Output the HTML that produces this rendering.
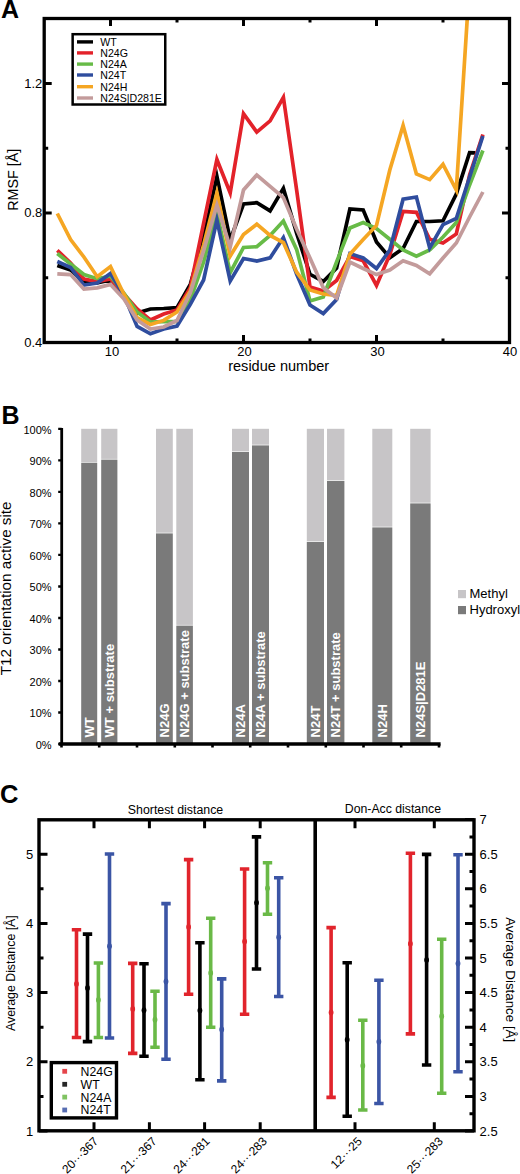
<!DOCTYPE html>
<html><head><meta charset="utf-8"><title>Figure</title>
<style>
html,body{margin:0;padding:0;background:#fff;}
body{width:520px;height:1174px;overflow:hidden;}
svg{display:block;}
text{font-family:"Liberation Sans", sans-serif;}
</style></head>
<body>
<svg width="520" height="1174" viewBox="0 0 520 1174">
<rect width="520" height="1174" fill="#fff"/>
<defs><clipPath id="clipA"><rect x="44.2" y="18.5" width="465.3" height="324.0"/></clipPath></defs>
<g clip-path="url(#clipA)" fill="none" stroke-width="3.7" stroke-linejoin="miter" stroke-miterlimit="10">
<polyline points="57.3,265.4 70.6,270.0 83.9,282.0 97.2,283.0 110.5,280.0 123.8,296.0 137.1,313.0 150.4,309.0 163.7,308.5 177.0,307.7 190.3,284.3 203.6,238.0 216.9,176.5 230.2,240.0 243.5,204.0 256.8,202.7 270.1,210.9 283.4,188.4 296.7,233.4 310.0,274.3 323.3,281.5 336.6,268.0 349.9,209.0 363.2,210.0 376.5,242.0 389.8,257.7 403.1,248.5 416.4,221.5 429.7,221.5 443.0,220.8 456.3,194.0 469.6,152.7 475.5,152.8" stroke="#000000"/>
<polyline points="57.3,250.4 70.6,263.0 83.9,279.0 97.2,281.5 110.5,279.0 123.8,294.0 137.1,309.0 150.4,320.0 163.7,314.0 177.0,310.0 190.3,287.7 203.6,223.4 216.9,159.5 230.2,193.0 243.5,113.7 256.8,132.1 270.1,120.9 283.4,97.3 296.7,190.4 310.0,287.0 323.3,291.0 336.6,280.5 349.9,256.5 363.2,260.8 376.5,285.4 389.8,254.6 403.1,211.5 416.4,212.3 429.7,239.2 443.0,243.0 456.3,234.0 469.6,175.0 482.9,134.5" stroke="#e3222a"/>
<polyline points="57.3,253.5 70.6,264.0 83.9,274.5 97.2,278.7 110.5,276.0 123.8,293.0 137.1,312.0 150.4,322.0 163.7,321.7 177.0,321.5 190.3,300.0 203.6,262.0 216.9,213.0 230.2,272.7 243.5,247.5 256.8,246.7 270.1,235.4 283.4,221.1 296.7,249.7 310.0,301.0 323.3,297.0 336.6,262.0 349.9,228.0 363.2,222.5 376.5,228.5 389.8,239.2 403.1,250.0 416.4,256.2 429.7,250.0 443.0,237.0 456.3,222.5 469.6,185.0 482.9,150.5" stroke="#67bb47"/>
<polyline points="57.3,261.5 70.6,267.5 83.9,285.0 97.2,283.0 110.5,273.5 123.8,295.0 137.1,326.4 150.4,333.8 163.7,329.0 177.0,326.0 190.3,304.4 203.6,280.0 216.9,220.0 230.2,281.0 243.5,258.5 256.8,261.0 270.1,257.9 283.4,237.5 296.7,274.3 310.0,305.0 323.3,313.5 336.6,299.5 349.9,253.5 363.2,258.0 376.5,268.5 389.8,250.0 403.1,199.2 416.4,197.0 429.7,248.0 443.0,224.6 456.3,218.5 469.6,177.0 482.9,136.0" stroke="#2f4d9e"/>
<polyline points="57.3,213.5 70.6,239.5 83.9,257.0 97.2,276.7 110.5,266.6 123.8,294.0 137.1,317.7 150.4,324.4 163.7,320.4 177.0,312.0 190.3,291.0 203.6,245.0 216.9,193.0 230.2,256.0 243.5,234.5 256.8,224.2 270.1,235.4 283.4,242.6 296.7,272.2 310.0,290.0 323.3,294.0 336.6,295.5 349.9,254.2 363.2,239.5 376.5,225.4 389.8,170.0 403.1,125.5 416.4,173.9 429.7,179.6 443.0,164.3 456.3,190.0 469.6,-18.0 482.9,-60.0" stroke="#f5a623"/>
<polyline points="57.3,273.8 70.6,274.6 83.9,289.0 97.2,287.8 110.5,284.4 123.8,298.8 137.1,320.0 150.4,329.0 163.7,327.0 177.0,320.5 190.3,292.8 203.6,250.6 216.9,205.0 230.2,247.0 243.5,190.0 256.8,175.0 270.1,186.3 283.4,197.6 296.7,229.3 310.0,258.0 323.3,287.7 336.6,298.0 349.9,262.0 363.2,268.5 376.5,274.6 389.8,270.0 403.1,260.8 416.4,265.4 429.7,273.8 443.0,258.0 456.3,243.0 469.6,217.0 482.9,192.0" stroke="#c39b9b"/>
</g>
<rect x="44.2" y="18.5" width="465.3" height="324.0" fill="none" stroke="#000" stroke-width="3.3"/>
<path d="M110.5 342.5V335.0M110.5 18.5V26.0M243.5 342.5V335.0M243.5 18.5V26.0M376.5 342.5V335.0M376.5 18.5V26.0M177.0 342.5V338.5M177.0 18.5V22.5M310.0 342.5V338.5M310.0 18.5V22.5M443.0 342.5V338.5M443.0 18.5V22.5M44.2 213.0H51.7M509.5 213.0H502.0M44.2 83.5H51.7M509.5 83.5H502.0M44.2 277.8H48.2M509.5 277.8H505.5M44.2 148.2H48.2M509.5 148.2H505.5" stroke="#000" stroke-width="3" fill="none"/>
<text x="1" y="18" font-size="25" font-weight="bold">A</text>
<text x="42.3" y="346.9" font-size="13" text-anchor="end">0.4</text>
<text x="42.3" y="217.4" font-size="13" text-anchor="end">0.8</text>
<text x="42.3" y="87.9" font-size="13" text-anchor="end">1.2</text>
<text x="112.1" y="355.6" font-size="13" text-anchor="middle">10</text>
<text x="244.6" y="355.6" font-size="13" text-anchor="middle">20</text>
<text x="377.4" y="355.6" font-size="13" text-anchor="middle">30</text>
<text x="510.0" y="355.6" font-size="13" text-anchor="middle">40</text>
<text x="228.2" y="370.9" font-size="14.3" textLength="101" lengthAdjust="spacingAndGlyphs">residue number</text>
<text transform="translate(17.6,210.8) rotate(-90)" font-size="14.3" textLength="62" lengthAdjust="spacingAndGlyphs">RMSF [Å]</text>
<rect x="72.65" y="34.2" width="92.6" height="70.3" fill="#fff" stroke="#000" stroke-width="2.5"/>
<path d="M77 41.9H93" stroke="#000000" stroke-width="3.4"/>
<text x="100.3" y="45.8" font-size="10.6">WT</text>
<path d="M77 52.9H93" stroke="#e3222a" stroke-width="3.4"/>
<text x="100.3" y="56.8" font-size="10.6">N24G</text>
<path d="M77 64.1H93" stroke="#67bb47" stroke-width="3.4"/>
<text x="100.3" y="68.0" font-size="10.6">N24A</text>
<path d="M77 75.0H93" stroke="#2f4d9e" stroke-width="3.4"/>
<text x="100.3" y="78.9" font-size="10.6">N24T</text>
<path d="M77 86.7H93" stroke="#f5a623" stroke-width="3.4"/>
<text x="100.3" y="90.6" font-size="10.6">N24H</text>
<path d="M77 98.0H93" stroke="#c39b9b" stroke-width="3.4"/>
<text x="100.3" y="101.9" font-size="10.6">N24S|D281E</text>
<text x="1.6" y="423.8" font-size="25" font-weight="bold">B</text>
<path d="M61.7 428.1V744.0" stroke="#000" stroke-width="2.8"/>
<path d="M58.2 744.0H61.7M58.2 712.5H61.7M58.2 681.0H61.7M58.2 649.5H61.7M58.2 618.0H61.7M58.2 586.5H61.7M58.2 554.9H61.7M58.2 523.4H61.7M58.2 491.9H61.7M58.2 460.4H61.7M58.2 428.9H61.7" stroke="#000" stroke-width="2.4"/>
<text x="51.6" y="748.8" font-size="11" text-anchor="end">0%</text>
<text x="51.6" y="717.3" font-size="11" text-anchor="end">10%</text>
<text x="51.6" y="685.8" font-size="11" text-anchor="end">20%</text>
<text x="51.6" y="654.3" font-size="11" text-anchor="end">30%</text>
<text x="51.6" y="622.8" font-size="11" text-anchor="end">40%</text>
<text x="51.6" y="591.2" font-size="11" text-anchor="end">50%</text>
<text x="51.6" y="559.7" font-size="11" text-anchor="end">60%</text>
<text x="51.6" y="528.2" font-size="11" text-anchor="end">70%</text>
<text x="51.6" y="496.7" font-size="11" text-anchor="end">80%</text>
<text x="51.6" y="465.2" font-size="11" text-anchor="end">90%</text>
<text x="51.6" y="433.7" font-size="11" text-anchor="end">100%</text>
<text transform="translate(11.1,675.2) rotate(-90)" font-size="15.25" textLength="173.8" lengthAdjust="spacingAndGlyphs">T12 orientation active site</text>
<rect x="81.2" y="428.8" width="16.0" height="33.2" fill="#c7c5c7"/>
<rect x="81.2" y="462.7" width="16.0" height="281.3" fill="#7a7a7a"/>
<text transform="translate(93.9,737.4) rotate(-90)" font-size="13" font-weight="bold" fill="#fff">WT</text>
<rect x="101.2" y="428.8" width="16.2" height="30.1" fill="#c7c5c7"/>
<rect x="101.2" y="459.6" width="16.2" height="284.4" fill="#7a7a7a"/>
<text transform="translate(114.0,737.4) rotate(-90)" font-size="13" font-weight="bold" fill="#fff">WT + substrate</text>
<rect x="156.0" y="428.8" width="16.8" height="103.9" fill="#c7c5c7"/>
<rect x="156.0" y="533.4" width="16.8" height="210.6" fill="#7a7a7a"/>
<text transform="translate(169.1,737.4) rotate(-90)" font-size="13" font-weight="bold" fill="#fff">N24G</text>
<rect x="176.3" y="428.8" width="16.6" height="196.1" fill="#c7c5c7"/>
<rect x="176.3" y="625.6" width="16.6" height="118.4" fill="#7a7a7a"/>
<text transform="translate(189.3,737.4) rotate(-90)" font-size="13" font-weight="bold" fill="#fff">N24G + substrate</text>
<rect x="232.0" y="428.8" width="17.0" height="22.4" fill="#c7c5c7"/>
<rect x="232.0" y="451.9" width="17.0" height="292.1" fill="#7a7a7a"/>
<text transform="translate(245.2,737.4) rotate(-90)" font-size="13" font-weight="bold" fill="#fff">N24A</text>
<rect x="252.0" y="428.8" width="17.0" height="15.9" fill="#c7c5c7"/>
<rect x="252.0" y="445.4" width="17.0" height="298.6" fill="#7a7a7a"/>
<text transform="translate(265.2,737.4) rotate(-90)" font-size="13" font-weight="bold" fill="#fff">N24A + substrate</text>
<rect x="306.8" y="428.8" width="17.2" height="112.4" fill="#c7c5c7"/>
<rect x="306.8" y="541.9" width="17.2" height="202.1" fill="#7a7a7a"/>
<text transform="translate(320.1,737.4) rotate(-90)" font-size="13" font-weight="bold" fill="#fff">N24T</text>
<rect x="327.0" y="428.8" width="17.4" height="51.4" fill="#c7c5c7"/>
<rect x="327.0" y="480.9" width="17.4" height="263.1" fill="#7a7a7a"/>
<text transform="translate(340.4,737.4) rotate(-90)" font-size="13" font-weight="bold" fill="#fff">N24T + substrate</text>
<rect x="372.3" y="428.8" width="20.0" height="97.9" fill="#c7c5c7"/>
<rect x="372.3" y="527.4" width="20.0" height="216.6" fill="#7a7a7a"/>
<text transform="translate(387.0,737.4) rotate(-90)" font-size="13" font-weight="bold" fill="#fff">N24H</text>
<rect x="410.2" y="428.8" width="20.4" height="73.9" fill="#c7c5c7"/>
<rect x="410.2" y="503.4" width="20.4" height="240.6" fill="#7a7a7a"/>
<text transform="translate(425.1,737.4) rotate(-90)" font-size="13" font-weight="bold" fill="#fff">N24S|D281E</text>
<path d="M58.8 744H440.6" stroke="#000" stroke-width="3.6"/>
<path d="M61.5 744V747.5M99.2 744V747.5M137.0 744V747.5M174.8 744V747.5M212.5 744V747.5M250.2 744V747.5M288.0 744V747.5M325.8 744V747.5M363.5 744V747.5M401.2 744V747.5M439.0 744V747.5" stroke="#000" stroke-width="2.6" fill="none"/>
<rect x="458" y="590" width="8" height="8.2" fill="#c7c5c7"/>
<rect x="458" y="606" width="8" height="8.2" fill="#7a7a7a"/>
<text x="469.5" y="598.3" font-size="13">Methyl</text>
<text x="469.5" y="614.3" font-size="13">Hydroxyl</text>
<text x="0" y="802.6" font-size="25.5" font-weight="bold">C</text>
<rect x="39.0" y="819.8" width="435.0" height="311.0" fill="none" stroke="#000" stroke-width="3.4"/>
<path d="M315.2 819.8V1130.8" stroke="#000" stroke-width="3.6"/>
<path d="M39.0 1131.0H47.5M39.0 1061.8H47.5M39.0 992.6H47.5M39.0 923.4H47.5M39.0 854.2H47.5M39.0 1096.4H43.5M39.0 1027.2H43.5M39.0 958.0H43.5M39.0 888.8H43.5M474.0 1131.0H465.0M474.0 1096.4H465.0M474.0 1061.8H465.0M474.0 1027.2H465.0M474.0 992.6H465.0M474.0 958.0H465.0M474.0 923.4H465.0M474.0 888.8H465.0M474.0 854.2H465.0M474.0 819.6H465.0M474.0 1113.7H469.5M474.0 1079.1H469.5M474.0 1044.5H469.5M474.0 1009.9H469.5M474.0 975.3H469.5M474.0 940.7H469.5M474.0 906.1H469.5M474.0 871.5H469.5M474.0 836.9H469.5M94.0 819.8V828.3M94.0 1130.8V1122.3M149.4 819.8V828.3M149.4 1130.8V1122.3M204.6 819.8V828.3M204.6 1130.8V1122.3M260.2 819.8V828.3M260.2 1130.8V1122.3M355.0 819.8V828.3M355.0 1130.8V1122.3M434.3 819.8V828.3M434.3 1130.8V1122.3" stroke="#000" stroke-width="3" fill="none"/>
<text x="33.2" y="1135.6" font-size="13" text-anchor="end">1</text>
<text x="33.2" y="1066.4" font-size="13" text-anchor="end">2</text>
<text x="33.2" y="997.2" font-size="13" text-anchor="end">3</text>
<text x="33.2" y="928.0" font-size="13" text-anchor="end">4</text>
<text x="33.2" y="858.8" font-size="13" text-anchor="end">5</text>
<text x="479.6" y="1135.6" font-size="13">2.5</text>
<text x="479.6" y="1101.0" font-size="13">3</text>
<text x="479.6" y="1066.4" font-size="13">3.5</text>
<text x="479.6" y="1031.8" font-size="13">4</text>
<text x="479.6" y="997.2" font-size="13">4.5</text>
<text x="479.6" y="962.6" font-size="13">5</text>
<text x="479.6" y="928.0" font-size="13">5.5</text>
<text x="479.6" y="893.4" font-size="13">6</text>
<text x="479.6" y="858.8" font-size="13">6.5</text>
<text x="479.6" y="824.2" font-size="13">7</text>
<text transform="translate(15.4,1031) rotate(-90)" font-size="12.3" textLength="115.8" lengthAdjust="spacingAndGlyphs">Average Distance [Å]</text>
<text transform="translate(506,917.2) rotate(90)" font-size="13.3" textLength="125" lengthAdjust="spacingAndGlyphs">Average Distance [Å]</text>
<text x="127.8" y="813.7" font-size="12.3" textLength="95.4" lengthAdjust="spacingAndGlyphs">Shortest distance</text>
<text x="344.8" y="813.0" font-size="12.3" textLength="96.2" lengthAdjust="spacingAndGlyphs">Don-Acc distance</text>
<path d="M76.5 929.8V1037.5M71.8 929.8H81.2M71.8 1037.5H81.2" stroke="#e1242c" stroke-width="3.6" fill="none"/>
<ellipse cx="76.5" cy="984.1" rx="2.4" ry="3" fill="#e1242c"/>
<path d="M87.5 934.1V1041.6M82.8 934.1H92.2M82.8 1041.6H92.2" stroke="#000" stroke-width="3.6" fill="none"/>
<ellipse cx="87.5" cy="987.9" rx="2.4" ry="3" fill="#000"/>
<path d="M98.4 963.0V1037.5M93.7 963.0H103.1M93.7 1037.5H103.1" stroke="#6ab947" stroke-width="3.6" fill="none"/>
<ellipse cx="98.4" cy="1000.0" rx="2.4" ry="3" fill="#6ab947"/>
<path d="M109.5 854.0V1038.0M104.8 854.0H114.2M104.8 1038.0H114.2" stroke="#3b55a5" stroke-width="3.6" fill="none"/>
<ellipse cx="109.5" cy="946.3" rx="2.4" ry="3" fill="#3b55a5"/>
<path d="M132.7 963.4V1053.4M128.0 963.4H137.4M128.0 1053.4H137.4" stroke="#e1242c" stroke-width="3.6" fill="none"/>
<ellipse cx="132.7" cy="1009.0" rx="2.4" ry="3" fill="#e1242c"/>
<path d="M144.0 963.8V1056.2M139.3 963.8H148.7M139.3 1056.2H148.7" stroke="#000" stroke-width="3.6" fill="none"/>
<ellipse cx="144.0" cy="1010.2" rx="2.4" ry="3" fill="#000"/>
<path d="M155.0 991.2V1047.3M150.3 991.2H159.7M150.3 1047.3H159.7" stroke="#6ab947" stroke-width="3.6" fill="none"/>
<ellipse cx="155.0" cy="1019.7" rx="2.4" ry="3" fill="#6ab947"/>
<path d="M166.0 903.6V1059.2M161.3 903.6H170.7M161.3 1059.2H170.7" stroke="#3b55a5" stroke-width="3.6" fill="none"/>
<ellipse cx="166.0" cy="981.4" rx="2.4" ry="3" fill="#3b55a5"/>
<path d="M188.6 859.6V994.3M183.9 859.6H193.3M183.9 994.3H193.3" stroke="#e1242c" stroke-width="3.6" fill="none"/>
<ellipse cx="188.6" cy="927.0" rx="2.4" ry="3" fill="#e1242c"/>
<path d="M199.9 942.7V1079.7M195.2 942.7H204.6M195.2 1079.7H204.6" stroke="#000" stroke-width="3.6" fill="none"/>
<ellipse cx="199.9" cy="1010.6" rx="2.4" ry="3" fill="#000"/>
<path d="M210.7 918.3V1027.2M206.0 918.3H215.4M206.0 1027.2H215.4" stroke="#6ab947" stroke-width="3.6" fill="none"/>
<ellipse cx="210.7" cy="973.1" rx="2.4" ry="3" fill="#6ab947"/>
<path d="M221.7 978.9V1080.9M217.0 978.9H226.4M217.0 1080.9H226.4" stroke="#3b55a5" stroke-width="3.6" fill="none"/>
<ellipse cx="221.7" cy="1029.5" rx="2.4" ry="3" fill="#3b55a5"/>
<path d="M244.6 869.0V1014.2M239.9 869.0H249.3M239.9 1014.2H249.3" stroke="#e1242c" stroke-width="3.6" fill="none"/>
<ellipse cx="244.6" cy="941.5" rx="2.4" ry="3" fill="#e1242c"/>
<path d="M256.5 836.9V969.0M251.8 836.9H261.2M251.8 969.0H261.2" stroke="#000" stroke-width="3.6" fill="none"/>
<ellipse cx="256.5" cy="902.7" rx="2.4" ry="3" fill="#000"/>
<path d="M267.5 862.7V914.2M262.8 862.7H272.2M262.8 914.2H272.2" stroke="#6ab947" stroke-width="3.6" fill="none"/>
<ellipse cx="267.5" cy="888.3" rx="2.4" ry="3" fill="#6ab947"/>
<path d="M278.7 877.7V996.5M274.0 877.7H283.4M274.0 996.5H283.4" stroke="#3b55a5" stroke-width="3.6" fill="none"/>
<ellipse cx="278.7" cy="937.3" rx="2.4" ry="3" fill="#3b55a5"/>
<path d="M331.1 927.6V1097.4M326.4 927.6H335.8M326.4 1097.4H335.8" stroke="#e1242c" stroke-width="3.6" fill="none"/>
<ellipse cx="331.1" cy="1012.5" rx="2.4" ry="3" fill="#e1242c"/>
<path d="M347.2 962.8V1116.2M342.5 962.8H351.9M342.5 1116.2H351.9" stroke="#000" stroke-width="3.6" fill="none"/>
<ellipse cx="347.2" cy="1039.7" rx="2.4" ry="3" fill="#000"/>
<path d="M362.8 1020.3V1110.0M358.1 1020.3H367.5M358.1 1110.0H367.5" stroke="#6ab947" stroke-width="3.6" fill="none"/>
<ellipse cx="362.8" cy="1065.7" rx="2.4" ry="3" fill="#6ab947"/>
<path d="M378.9 980.2V1103.5M374.2 980.2H383.6M374.2 1103.5H383.6" stroke="#3b55a5" stroke-width="3.6" fill="none"/>
<ellipse cx="378.9" cy="1041.7" rx="2.4" ry="3" fill="#3b55a5"/>
<path d="M410.4 853.3V1033.9M405.7 853.3H415.1M405.7 1033.9H415.1" stroke="#e1242c" stroke-width="3.6" fill="none"/>
<ellipse cx="410.4" cy="943.7" rx="2.4" ry="3" fill="#e1242c"/>
<path d="M426.6 854.4V1065.0M421.9 854.4H431.3M421.9 1065.0H431.3" stroke="#000" stroke-width="3.6" fill="none"/>
<ellipse cx="426.6" cy="960.1" rx="2.4" ry="3" fill="#000"/>
<path d="M441.7 939.3V1093.3M437.0 939.3H446.4M437.0 1093.3H446.4" stroke="#6ab947" stroke-width="3.6" fill="none"/>
<ellipse cx="441.7" cy="1016.2" rx="2.4" ry="3" fill="#6ab947"/>
<path d="M458.0 854.8V1071.7M453.3 854.8H462.7M453.3 1071.7H462.7" stroke="#3b55a5" stroke-width="3.6" fill="none"/>
<ellipse cx="458.0" cy="963.6" rx="2.4" ry="3" fill="#3b55a5"/>
<rect x="51.3" y="1062.6" width="65.2" height="55.3" fill="#fff" stroke="#000" stroke-width="3.4"/>
<rect x="62.3" y="1068.9" width="4.8" height="4.8" fill="#e1242c" opacity="0.85"/>
<text x="80.6" y="1075.7" font-size="12.3">N24G</text>
<rect x="62.3" y="1081.9" width="4.8" height="4.8" fill="#000" opacity="0.85"/>
<text x="80.6" y="1088.7" font-size="12.3">WT</text>
<rect x="62.3" y="1094.7" width="4.8" height="4.8" fill="#6ab947" opacity="0.85"/>
<text x="80.6" y="1101.5" font-size="12.3">N24A</text>
<rect x="62.3" y="1107.6" width="4.8" height="4.8" fill="#3b55a5" opacity="0.85"/>
<text x="80.6" y="1114.4" font-size="12.3">N24T</text>
<text transform="translate(99.0,1142.1) rotate(-45)" font-size="12.0" text-anchor="end">20···367</text>
<text transform="translate(157.5,1142.1) rotate(-45)" font-size="12.0" text-anchor="end">21···367</text>
<text transform="translate(210.4,1142.1) rotate(-45)" font-size="12.0" text-anchor="end">24···281</text>
<text transform="translate(267.8,1142.1) rotate(-45)" font-size="12.0" text-anchor="end">24···283</text>
<text transform="translate(362.8,1142.1) rotate(-45)" font-size="12.0" text-anchor="end">12···25</text>
<text transform="translate(443.8,1142.1) rotate(-45)" font-size="12.0" text-anchor="end">25···283</text>
</svg>
</body></html>
